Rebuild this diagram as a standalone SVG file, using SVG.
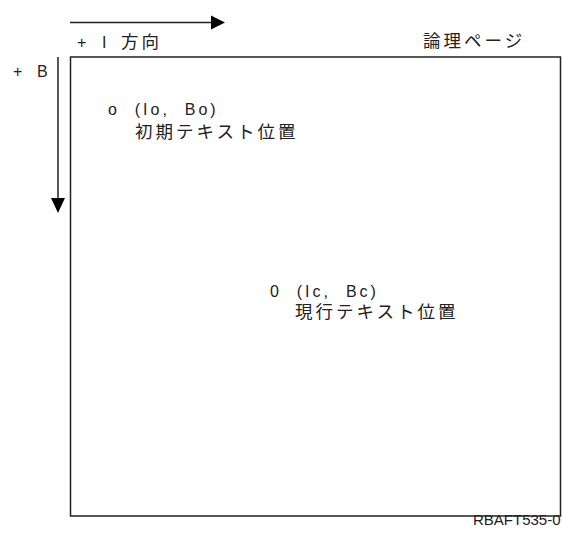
<svg xmlns="http://www.w3.org/2000/svg" width="562" height="540" viewBox="0 0 562 540">
<style>
text{font-family:"Liberation Sans","Noto Sans CJK JP",sans-serif;fill:#222;}
.t{font-size:16px;letter-spacing:3px;}
.j{font-size:17.5px;letter-spacing:3px;}
.line{stroke:#222;stroke-width:1.5;fill:none;}
</style>
<g id="page">
<rect x="70.5" y="57" width="490" height="459" class="line"/>
<text class="j" x="423" y="47">論理ページ</text>
</g>
<g id="connectors">
<line x1="70" y1="22.5" x2="211" y2="22.5" class="line" stroke-width="1.2"/>
<path d="M211,15.5 L225,22.5 L211,29.5 Z" fill="#000"/>
<line x1="58" y1="57" x2="58" y2="198" class="line" stroke-width="1.2"/>
<path d="M51,198 L65,198 L58,213 Z" fill="#000"/>
</g>
<g id="axisI">
<text class="t" x="77" y="48">+</text>
<text class="t" x="102" y="48">I</text>
<text class="j" x="121" y="48">方向</text>
</g>
<g id="axisB">
<text class="t" x="13" y="77">+</text>
<text class="t" x="37" y="77">B</text>
</g>
<g id="initial">
<text class="t" x="108" y="115" xml:space="preserve">o  (Io,  Bo)</text>
<text class="j" x="135" y="138">初期テキスト位置</text>
</g>
<g id="current">
<text class="t" x="270" y="297" xml:space="preserve">0  (Ic,  Bc)</text>
<text class="j" x="295" y="318">現行テキスト位置</text>
</g>
<text x="473" y="525" font-size="15">RBAFT535-0</text>
</svg>
